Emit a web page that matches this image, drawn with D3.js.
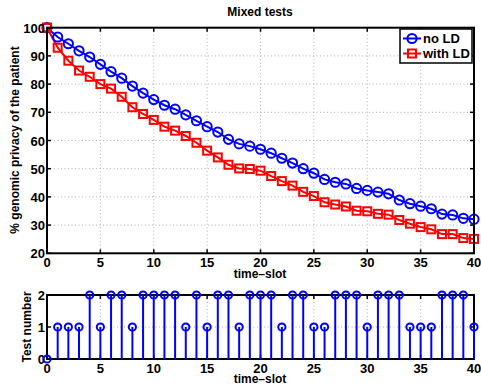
<!DOCTYPE html>
<html><head><meta charset="utf-8">
<script src="https://cdn.jsdelivr.net/npm/d3@7"></script>
<style>
body{margin:0;background:#fff;}
text{font-family:"Liberation Sans",Arial,Helvetica,sans-serif;font-weight:bold;}
</style></head>
<body>
<svg id="c" width="481" height="385"></svg>
<script>
const timeSlots = d3.range(0, 41);
const noLD = [100, 96.7, 94.3, 91.8, 89.6, 87.0, 84.4, 82.1, 79.3, 76.8, 74.5, 72.5, 71.1, 69.1, 67.0, 64.9, 63.0, 60.4, 58.8, 58.0, 56.9, 55.5, 53.7, 52.0, 50.0, 48.4, 46.2, 45.2, 44.6, 43.0, 42.3, 41.7, 41.1, 38.9, 37.6, 36.7, 35.8, 33.9, 33.6, 32.4, 32.1];
const withLD = [100, 92.9, 88.3, 84.8, 82.6, 80.0, 78.4, 75.5, 71.8, 69.4, 67.3, 64.9, 63.5, 61.6, 59.2, 56.4, 54.0, 51.4, 50.1, 49.9, 49.3, 47.4, 45.6, 44.0, 41.8, 40.3, 38.1, 37.3, 36.6, 35.1, 34.9, 34.0, 33.7, 31.8, 30.5, 29.3, 28.5, 26.8, 26.8, 25.4, 25.1];
const testNumber = [0,1,1,1,2,1,2,2,1,2,2,2,2,1,2,1,2,2,1,2,2,2,1,2,2,1,1,2,2,2,1,2,2,2,1,1,1,2,2,2,1];
const xTicks = [0,5,10,15,20,25,30,35,40];
const yTicksTop = [20,30,40,50,60,70,80,90,100];
const yTicksBottom = [0,1,2];
const seriesNames = ["no LD", "with LD"];

const svg = d3.select("#c");
const L = 47, R = 474;
const x = d3.scaleLinear().domain([0,40]).range([L,R]);
const yT = d3.scaleLinear().domain([20,100]).range([253.3,27.7]);
const yB = d3.scaleLinear().domain([0,2]).range([359,295]);

function panel(y, yTicks, top, bottom) {
  const g = svg.append("g");
  g.selectAll(".gx").data(xTicks.slice(1,-1)).join("line")
    .attr("x1", d=>x(d)).attr("x2", d=>x(d)).attr("y1", top).attr("y2", bottom)
    .attr("stroke", "#b0b0b0").attr("stroke-width", 1).attr("stroke-dasharray", "1,2.5");
  g.selectAll(".gy").data(yTicks.slice(1,-1)).join("line")
    .attr("x1", L).attr("x2", R).attr("y1", d=>y(d)).attr("y2", d=>y(d))
    .attr("stroke", "#b0b0b0").attr("stroke-width", 1).attr("stroke-dasharray", "1,2.5");
  return g;
}
function frame(y, yTicks, top, bottom) {
  const g = svg.append("g");
  const tl = 4;
  g.selectAll(".tb").data(xTicks).join("line")
    .attr("x1", d=>x(d)).attr("x2", d=>x(d)).attr("y1", bottom).attr("y2", bottom-tl)
    .attr("stroke","#000").attr("stroke-width",1.5);
  g.selectAll(".tt").data(xTicks).join("line")
    .attr("x1", d=>x(d)).attr("x2", d=>x(d)).attr("y1", top).attr("y2", top+tl)
    .attr("stroke","#000").attr("stroke-width",1.5);
  g.selectAll(".tl").data(yTicks).join("line")
    .attr("x1", L).attr("x2", L+tl).attr("y1", d=>y(d)).attr("y2", d=>y(d))
    .attr("stroke","#000").attr("stroke-width",1.5);
  g.selectAll(".tr").data(yTicks).join("line")
    .attr("x1", R).attr("x2", R-tl).attr("y1", d=>y(d)).attr("y2", d=>y(d))
    .attr("stroke","#000").attr("stroke-width",1.5);
  g.append("rect").attr("x",L).attr("y",top).attr("width",R-L).attr("height",bottom-top)
    .attr("fill","none").attr("stroke","#000").attr("stroke-width",2);
  g.selectAll(".xl").data(xTicks).join("text")
    .attr("x", d=>x(d)).attr("y", bottom+14).attr("text-anchor","middle")
    .attr("font-size",13).text(d=>d);
  g.selectAll(".yl").data(yTicks).join("text")
    .attr("x", L-2).attr("y", d=>y(d)+5).attr("text-anchor","end")
    .attr("font-size",13).text(d=>d);
}

// Top panel
panel(yT, yTicksTop, 27.7, 253.3);
const line = d3.line().x((d,i)=>x(timeSlots[i])).y(d=>yT(d));
svg.append("path").datum(noLD).attr("d", line).attr("fill","none").attr("stroke","#0000ff").attr("stroke-width",2);
svg.append("path").datum(withLD).attr("d", line).attr("fill","none").attr("stroke","#ff0000").attr("stroke-width",2);
svg.append("g").selectAll("rect").data(withLD).join("rect")
  .attr("x",(d,i)=>x(timeSlots[i])-4).attr("y",d=>yT(d)-4).attr("width",8).attr("height",8)
  .attr("fill","none").attr("stroke","#ff0000").attr("stroke-width",2);
svg.append("g").selectAll("circle").data(noLD).join("circle")
  .attr("cx",(d,i)=>x(timeSlots[i])).attr("cy",d=>yT(d)).attr("r",4.6)
  .attr("fill","none").attr("stroke","#0000ff").attr("stroke-width",2);
svg.append("rect").attr("x",x(timeSlots[0])-4).attr("y",yT(withLD[0])-4).attr("width",8).attr("height",8)
  .attr("fill","none").attr("stroke","#ff0000").attr("stroke-width",2);
frame(yT, yTicksTop, 27.7, 253.3);

// Legend
const lg = svg.append("g");
lg.append("rect").attr("x",400).attr("y",29).attr("width",72).attr("height",34)
  .attr("fill","#fff").attr("stroke","#000").attr("stroke-width",1.5);
lg.append("line").attr("x1",403).attr("x2",421).attr("y1",38.5).attr("y2",38.5).attr("stroke","#0000ff").attr("stroke-width",2);
lg.append("circle").attr("cx",412).attr("cy",38.5).attr("r",4.6).attr("fill","none").attr("stroke","#0000ff").attr("stroke-width",2);
lg.append("text").attr("x",423).attr("y",43).attr("font-size",13).text(seriesNames[0]);
lg.append("line").attr("x1",403).attr("x2",421).attr("y1",53.5).attr("y2",53.5).attr("stroke","#ff0000").attr("stroke-width",2);
lg.append("rect").attr("x",408).attr("y",49.5).attr("width",8).attr("height",8).attr("fill","none").attr("stroke","#ff0000").attr("stroke-width",2);
lg.append("text").attr("x",423).attr("y",58).attr("font-size",13).text(seriesNames[1]);

svg.append("text").attr("x",260).attr("y",16).attr("text-anchor","middle").attr("font-size",12).text("Mixed tests");
svg.append("text").attr("transform","translate(19,140) rotate(-90)").attr("text-anchor","middle").attr("font-size",12).text("% genomic privacy of the patient");
svg.append("text").attr("x",260).attr("y",278).attr("text-anchor","middle").attr("font-size",12).text("time\u2013slot");

// Bottom panel
panel(yB, yTicksBottom, 295, 359);
const st = svg.append("g");
st.selectAll("line").data(testNumber).join("line")
  .attr("x1",(d,i)=>x(timeSlots[i])).attr("x2",(d,i)=>x(timeSlots[i]))
  .attr("y1",yB(0)).attr("y2",d=>yB(d)).attr("stroke","#0000ff").attr("stroke-width",2);
frame(yB, yTicksBottom, 295, 359);
st.raise();
svg.append("g").selectAll("circle").data(testNumber).join("circle")
  .attr("cx",(d,i)=>x(timeSlots[i])).attr("cy",d=>yB(d)).attr("r",3.6)
  .attr("fill","none").attr("stroke","#0000ff").attr("stroke-width",2);
svg.append("text").attr("transform","translate(31,327) rotate(-90)").attr("text-anchor","middle").attr("font-size",12).text("Test number");
svg.append("text").attr("x",260).attr("y",383).attr("text-anchor","middle").attr("font-size",12).text("time\u2013slot");
</script>
</body></html>
